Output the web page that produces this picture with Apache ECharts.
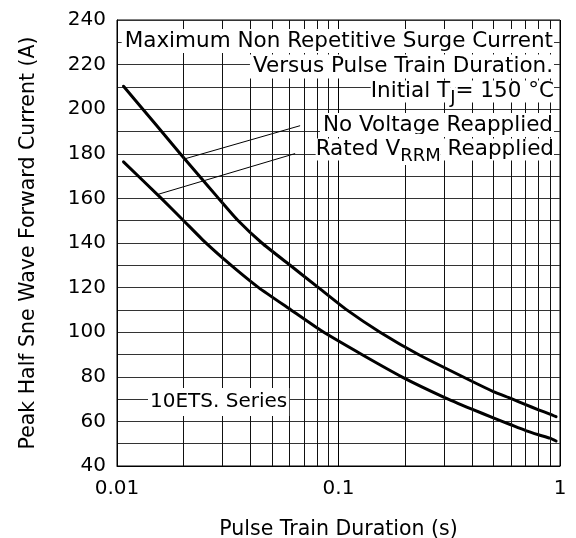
<!DOCTYPE html>
<html>
<head>
<meta charset="utf-8">
<script src="https://cdn.jsdelivr.net/npm/echarts@6/dist/echarts.min.js"></script>
<style>
html, body { margin: 0; padding: 0; background: #fff; }
#chart { width: 576px; height: 538px; }
</style>
</head>
<body>
<div id="chart"></div>
<script>
var fontName = 'DejaVu Sans';

// 无电压重加曲线 (s, A)
var noVoltageX = [0.0107, 0.015, 0.0193, 0.0238, 0.0283, 0.035, 0.0451, 0.0605, 0.0812, 0.109, 0.154, 0.2296, 0.4, 0.5, 0.6, 0.7, 0.8, 0.9, 0.96];
var noVoltageY = [210.3, 193, 180, 169.5, 160.8, 150.3, 140, 130, 120, 110, 100, 90, 78, 73.4, 70.3, 67.5, 65.2, 63.3, 62.1];

// 额定 VRRM 重加曲线 (s, A)
var ratedVrrmX = [0.0107, 0.01585, 0.02, 0.0249, 0.0325, 0.0436, 0.061, 0.0841, 0.1274, 0.193, 0.3, 0.4, 0.5, 0.6, 0.7, 0.8, 0.9, 0.96];
var ratedVrrmY = [176.4, 160, 150, 140.5, 130.3, 120, 110, 100.5, 90, 80, 70.8, 65.5, 61.6, 58.5, 55.9, 54, 52.5, 51.2];

// 引线（数据坐标）
var leaderNoVoltage = [[0.02, 177.6], [0.0671, 192.6]];
var leaderRated = [[0.0153, 161.8], [0.0637, 180.1]];

// 对数网格竖线
var logGridX = [0.02, 0.03, 0.04, 0.05, 0.06, 0.07, 0.08, 0.09, 0.2, 0.3, 0.4, 0.5, 0.6, 0.7, 0.8, 0.9];

var yTicks = [40, 60, 80, 100, 120, 140, 160, 180, 200, 220, 240];

function zipXY(xs, ys) {
    var out = [];
    for (var i = 0; i < xs.length; i++) out.push([xs[i], ys[i]]);
    return out;
}

function noteText(x, y, text, align) {
    return {
        type: 'text', z: 100, x: x, y: y,
        style: {
            text: text,
            fontFamily: fontName, fontSize: 21.5, fill: '#000',
            align: align, verticalAlign: 'middle', textAlign: align, textVerticalAlign: 'middle',
            backgroundColor: '#fff', padding: [1, 1, 1, 3]
        }
    };
}

// 带下标的注释
function subText(x, y, text) {
    return {
        type: 'text', z: 100, x: x, y: y,
        style: {
            text: text,
            fill: '#000',
            align: 'right', verticalAlign: 'middle', textAlign: 'right', textVerticalAlign: 'middle',
            rich: {
                m: { fontFamily: fontName, fontSize: 21.5, lineHeight: 22, backgroundColor: '#fff', color: '#000' },
                s: { fontFamily: fontName, fontSize: 18, padding: [13, 0, 0, 0], backgroundColor: '#fff', color: '#000' }
            }
        }
    };
}

var chart = echarts.init(document.getElementById('chart'));

var curveStyle = { color: '#000', width: 3, join: 'round', cap: 'round' };

var option = {
    animation: false,
    backgroundColor: '#fff',
    grid: {
        left: 117, right: 16, top: 20, bottom: 72,
        outerBoundsMode: 'none',
        containLabel: false,
        show: true, borderColor: '#000', borderWidth: 1
    },
    xAxis: {
        type: 'log',
        logBase: 10,
        min: 0.01,
        max: 1,
        name: 'Pulse Train Duration (s)',
        nameLocation: 'middle',
        nameGap: 53,
        nameTextStyle: { fontFamily: fontName, fontSize: 20.5, color: '#000' },
        axisLine: { lineStyle: { color: '#000', width: 1 } },
        axisTick: { show: false },
        axisLabel: {
            fontFamily: fontName, fontSize: 20, color: '#000', margin: 13,
            formatter: function (v) { return String(v); }
        },
        splitLine: { show: true, lineStyle: { color: '#000', width: 1 } }
    },
    yAxis: {
        type: 'value',
        min: 40,
        max: 240,
        interval: 10,
        name: 'Peak Half Sne Wave Forward Current (A)',
        nameLocation: 'middle',
        nameGap: 78,
        nameTextStyle: { fontFamily: fontName, fontSize: 20.5, color: '#000' },
        axisLine: { show: true, lineStyle: { color: '#000', width: 1 } },
        axisTick: { show: false },
        axisLabel: {
            fontFamily: fontName, fontSize: 20, color: '#000', margin: 11,
            formatter: function (v) { return yTicks.indexOf(v) >= 0 ? String(v) : ''; }
        },
        splitLine: { show: true, lineStyle: { color: '#333', width: 1 } }
    },
    series: [
        {
            name: 'grid',
            type: 'line',
            data: [],
            silent: true,
            z: 1,
            markLine: {
                silent: true,
                symbol: 'none',
                label: { show: false },
                lineStyle: { color: '#111', width: 1, type: 'solid' },
                data: logGridX.map(function (v) { return { xAxis: v }; })
            }
        },
        {
            name: 'No Voltage Reapplied',
            type: 'line',
            data: zipXY(noVoltageX, noVoltageY),
            smooth: 0.15,
            symbol: 'none',
            lineStyle: curveStyle,
            z: 3
        },
        {
            name: 'Rated VRRM Reapplied',
            type: 'line',
            data: zipXY(ratedVrrmX, ratedVrrmY),
            smooth: 0.15,
            symbol: 'none',
            lineStyle: curveStyle,
            z: 3
        },
        {
            type: 'line',
            data: leaderNoVoltage,
            symbol: 'none',
            lineStyle: { color: '#000', width: 1 },
            z: 3
        },
        {
            type: 'line',
            data: leaderRated,
            symbol: 'none',
            lineStyle: { color: '#000', width: 1 },
            z: 3
        }
    ],
    graphic: {
        elements: [
            noteText(554, 41, 'Maximum Non Repetitive Surge Current', 'right'),
            noteText(554, 66.5, 'Versus Pulse Train Duration.', 'right'),
            subText(554, 91.5, '{m|Initial T}{s|J}{m|= 150 °C}'),
            noteText(554, 125, 'No Voltage Reapplied', 'right'),
            subText(554, 149.5, '{m|Rated V}{s|RRM}{m| Reapplied}'),
            {
                type: 'text', z: 100, x: 148, y: 402,
                style: {
                    text: '10ETS. Series',
                    fontFamily: fontName, fontSize: 20, fill: '#000',
                    align: 'left', verticalAlign: 'middle', textAlign: 'left', textVerticalAlign: 'middle',
                    backgroundColor: '#fff', padding: [4, 2, 4, 2]
                }
            }
        ]
    }
};

chart.setOption(option);
</script>
</body>
</html>
